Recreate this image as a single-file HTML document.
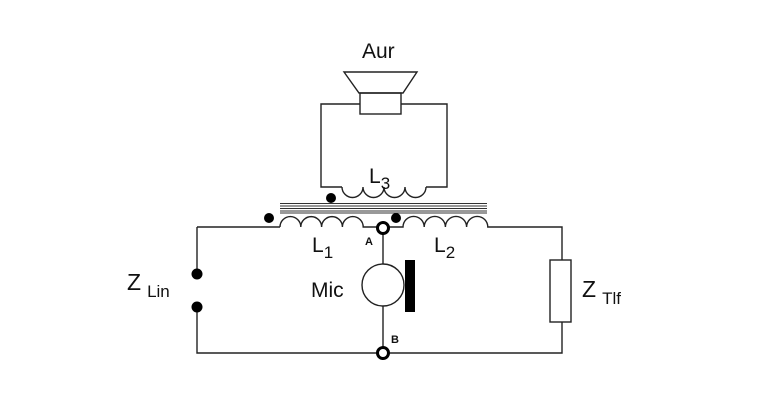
<!DOCTYPE html><html><head><style>body{margin:0;background:#fff}svg{display:block}text{font-family:"Liberation Sans",Arial,sans-serif;fill:#111}</style></head><body>
<svg width="766" height="405" viewBox="0 0 766 405" xmlns="http://www.w3.org/2000/svg">
<g fill="none" stroke="#222" stroke-width="1.4">
<polygon points="344,72 417,72 403,93 359,93"/>
<rect x="360" y="93" width="41" height="21"/>
<path d="M360,104 H321 V187 H342 M401,104 H447 V187 H426"/>
<path d="M342,187 a10.5,10.5 0 0 0 21,0 a10.5,10.5 0 0 0 21,0 a10.5,10.5 0 0 0 21,0 a10.5,10.5 0 0 0 21,0"/>
<path d="M197,227 H280 M280,227 a10.4,10.4 0 0 1 20.8,0 a10.4,10.4 0 0 1 20.8,0 a10.4,10.4 0 0 1 20.8,0 a10.4,10.4 0 0 1 20.8,0 H403 a10.6,10.6 0 0 1 21.2,0 a10.6,10.6 0 0 1 21.2,0 a10.6,10.6 0 0 1 21.2,0 a10.6,10.6 0 0 1 21.2,0 H562 V260 M562,322 V353 H197 V307 M197,274 V227"/>
<path d="M383,228 V264 M383,306 V353"/>
<circle cx="383" cy="285" r="21"/>
<rect x="550" y="260" width="21" height="62"/>
</g>
<g stroke="#333" stroke-width="1">
<line x1="280" y1="203.5" x2="487" y2="203.5"/><line x1="280" y1="206" x2="487" y2="206"/><line x1="280" y1="208.5" x2="487" y2="208.5"/><line x1="280" y1="211" x2="487" y2="211"/><line x1="280" y1="213" x2="487" y2="213"/>
</g>
<g fill="#000">
<circle cx="331" cy="198" r="5"/><circle cx="269" cy="218" r="5"/><circle cx="396" cy="218" r="5"/>
<circle cx="197" cy="274" r="5.5"/><circle cx="197" cy="307" r="5.5"/>
<rect x="405" y="260" width="10" height="52"/>
</g>
<g fill="#fff" stroke="#000" stroke-width="3"><circle cx="383" cy="228" r="5.5"/><circle cx="383" cy="353" r="5.5"/></g>
<text x="362" y="58" font-size="21">Aur</text>
<text x="369" y="183" font-size="21">L<tspan font-size="17" dy="6">3</tspan></text>
<text x="312" y="252" font-size="21">L<tspan font-size="17" dy="6">1</tspan></text>
<text x="434" y="252" font-size="21">L<tspan font-size="17" dy="6">2</tspan></text>
<text x="365" y="245" font-size="11" font-weight="bold">A</text>
<text x="391" y="343" font-size="11" font-weight="bold">B</text>
<text x="311" y="297" font-size="21">Mic</text>
<text x="127" y="290" font-size="23">Z<tspan font-size="17" dx="6" dy="7">Lin</tspan></text>
<text x="582" y="297" font-size="23">Z<tspan font-size="17" dx="6" dy="7">Tlf</tspan></text>
</svg></body></html>
